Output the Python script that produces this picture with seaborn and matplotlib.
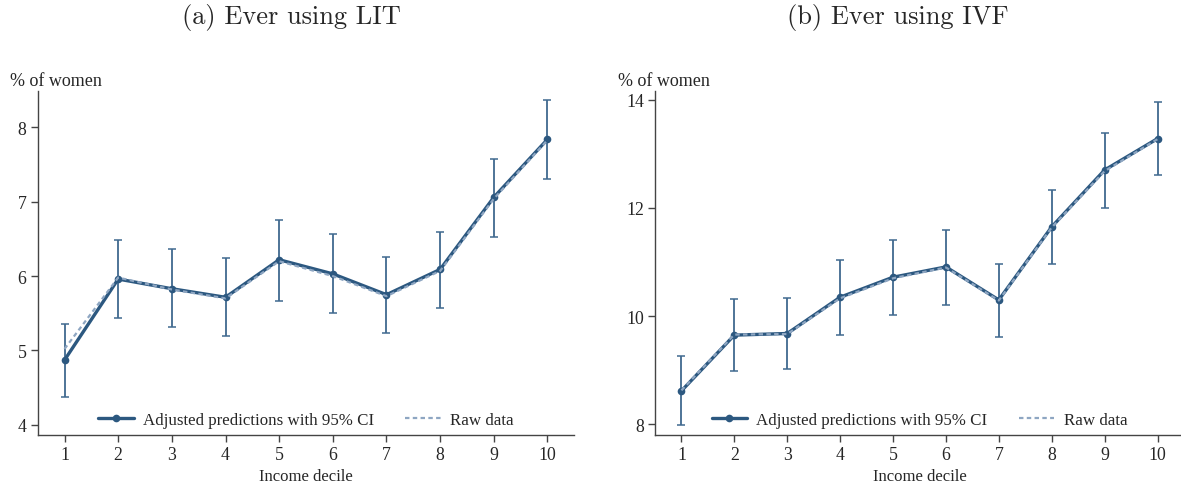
import numpy as np
import pandas as pd
import matplotlib
matplotlib.use("Agg")
import matplotlib.pyplot as plt
import seaborn as sns

deciles = list(range(1, 11))

# (a) Ever using LIT
lit_adj = [4.87, 5.96, 5.83, 5.715, 6.22, 6.03, 5.75, 6.09, 7.06, 7.84]
lit_lo = [4.38, 5.44, 5.31, 5.19, 5.67, 5.50, 5.24, 5.57, 6.52, 7.30]
lit_hi = [5.36, 6.49, 6.36, 6.25, 6.76, 6.56, 6.26, 6.59, 7.58, 8.375]
lit_raw = [5.02, 5.98, 5.82, 5.70, 6.20, 6.00, 5.73, 6.07, 7.04, 7.83]

# (b) Ever using IVF
ivf_adj = [8.62, 9.65, 9.68, 10.35, 10.72, 10.91, 10.30, 11.65, 12.70, 13.28]
ivf_lo = [7.99, 8.99, 9.02, 9.65, 10.02, 10.21, 9.62, 10.97, 12.00, 12.60]
ivf_hi = [9.26, 10.31, 10.34, 11.04, 11.41, 11.60, 10.96, 12.34, 13.38, 13.96]
ivf_raw = [8.63, 9.66, 9.67, 10.33, 10.70, 10.90, 10.29, 11.64, 12.68, 13.27]

sns.set_style("ticks")
plt.rcParams['font.family'] = ['Liberation Serif', 'DejaVu Serif']

c_main = '#2c5880'
c_ci = '#40698f'
c_raw = '#8ea6c2'

fig = plt.figure(figsize=(11.81, 4.85), dpi=100)
ax1 = fig.add_axes([0.0319, 0.1016, 0.4544, 0.7087])
ax2 = fig.add_axes([0.5546, 0.1016, 0.4479, 0.7087])


def panel(ax, adj, lo, hi, raw, ylim, yticks):
    df = pd.DataFrame({'decile': deciles, 'adj': adj, 'raw': raw})
    adj_a = np.array(adj)
    yerr = [adj_a - np.array(lo), np.array(hi) - adj_a]
    ax.errorbar(deciles, adj, yerr=yerr, fmt='none', ecolor=c_ci,
                elinewidth=1.3, capsize=3, capthick=1.1, zorder=2)
    sns.lineplot(data=df, x='decile', y='adj', ax=ax, color=c_main,
                 linewidth=2.4, marker='o', markersize=5.5, markeredgewidth=0,
                 label='Adjusted predictions with 95% CI', zorder=3)
    sns.lineplot(data=df, x='decile', y='raw', ax=ax, color=c_raw,
                 linewidth=1.6, linestyle=(0, (2, 1.5)),
                 label='Raw data', zorder=4)
    ax.set_xlim(0.5, 10.5)
    ax.set_ylim(*ylim)
    ax.set_xticks(deciles)
    ax.set_yticks(yticks)
    ax.set_xlabel('Income decile', fontsize=12, labelpad=4)
    ax.set_ylabel('')
    sns.despine(ax=ax)
    for s in ['left', 'bottom']:
        ax.spines[s].set_color('#444444')
        ax.spines[s].set_linewidth(1.0)
    ax.tick_params(axis='both', direction='out', length=5, width=1,
                   color='#444444', labelsize=12.8, pad=3)
    ax.legend(loc='lower center', ncol=2, frameon=False, fontsize=12.2,
              handlelength=2.1, columnspacing=1.85, handletextpad=0.55,
              bbox_to_anchor=(0.5, -0.025))


panel(ax1, lit_adj, lit_lo, lit_hi, lit_raw, (3.866, 8.49), [4, 5, 6, 7, 8])
panel(ax2, ivf_adj, ivf_lo, ivf_hi, ivf_raw, (7.81, 14.16), [8, 10, 12, 14])

ax1.text(-0.052, 1.032, '% of women', transform=ax1.transAxes, fontsize=13,
         ha='left', va='center')
ax2.text(-0.07, 1.032, '% of women', transform=ax2.transAxes, fontsize=13,
         ha='left', va='center')

fig.text(0.2464, 0.963, '(a) Ever using LIT', family='cmr10', fontsize=19,
         ha='center', va='center')
fig.text(0.7603, 0.963, '(b) Ever using IVF', family='cmr10', fontsize=19,
         ha='center', va='center')

fig.savefig('out.png', dpi=100)
